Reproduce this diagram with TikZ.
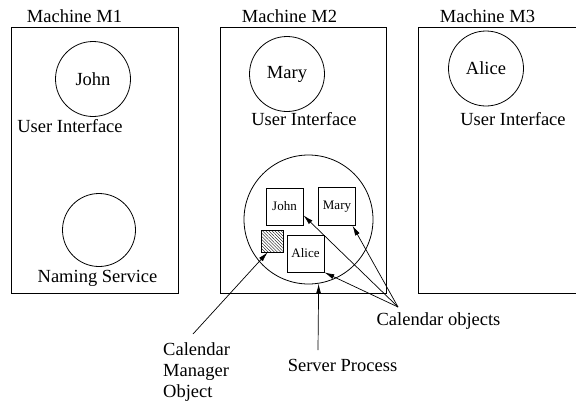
\documentclass[tikz,border=0pt]{standalone}
\usepackage{fontspec}
\setmainfont{Liberation Serif}
\usetikzlibrary{arrows.meta, patterns.meta}

\tikzset{
  machine/.style={draw, line width=0.8pt, inner sep=0pt},
  ui/.style={draw, circle, line width=0.8pt, inner sep=0pt, minimum size=75pt},
  obj/.style={draw, line width=0.8pt, inner sep=0pt, minimum size=37pt, font=\fontsize{13}{15}\selectfont},
  lbl/.style={inner sep=0pt, anchor=base},
  ptr/.style={line width=0.7pt, -{Latex[length=10pt,width=5pt]}}
}

\begin{document}
\begin{tikzpicture}[x=1pt,y=1pt,yscale=-1,font=\fontsize{18.5}{21}\selectfont]
\useasboundingbox (0,0) rectangle (576,407);

% Machines
\node [machine, minimum width=167pt, minimum height=266pt] (m1) at (94.5,160) {};
\node [machine, minimum width=166pt, minimum height=266pt] (m2) at (303,160) {};
\coordinate (m3a) at (576,27);
\coordinate (m3b) at (418,27);
\coordinate (m3c) at (418,293);
\coordinate (m3d) at (576,293);
\draw [line width=0.8pt] (m3a) -- (m3b) -- (m3c) -- (m3d);

% Text Node
\node [lbl] (t1) at (74.5,22) {Machine M1};
\node [lbl] (t2) at (289.5,22) {Machine M2};
\node [lbl] (t3) at (487.5,22) {Machine M3};

% user interfaces
\node [ui] (john) at (93,79) {John};
\node [ui] (mary) at (287,74) {Mary};
\node [ui] (alice) at (486,68.5) {Alice};
\node [lbl] (ui1) at (70,132) {User Interface};
\node [lbl] (ui2) at (304,125) {User Interface};
\node [lbl] (ui3) at (513,125) {User Interface};

% naming service
\node [ui, minimum size=73pt] (ns) at (99,230) {};
\node [lbl] (nslbl) at (97.5,282) {Naming Service};

% server process and its objects
\node [ui, minimum size=129pt] (server) at (308.5,219.5) {};
\node [obj] (jbox) at (284.5,206.5) {John};
\node [obj, minimum size=37.5pt] (mbox) at (337,206.5) {Mary};
\node [obj] (abox) at (305.5,253.5) {Alice};
\node [draw, line width=0.8pt, inner sep=0pt, minimum size=22pt,
  pattern={Lines[angle=-45,distance=2.2pt,line width=0.35pt]}] (hbox) at (272,241) {};

% Text Node
\node [lbl] (colbl) at (438.5,325) {Calendar objects};
\coordinate (co) at (398,307);
\draw [ptr] (co) -- (jbox.-25);
\draw [ptr] (co) -- (mbox.-51);
\draw [ptr] (co) -- (abox.south east);

% Text Node
\node [lbl] (splbl) at (342.5,371) {Server Process};
\coordinate (sp) at (318,350);
\draw [ptr] (sp) -- (server.-81.5);

% Text Node
\node [inner sep=0pt, anchor=north west, align=left] (cmlbl) at (163,342) {Calendar\\Manager\\Object};
\coordinate (cm) at (193,334);
\draw [ptr] (cm) -- (hbox.-111);

\end{tikzpicture}
\end{document}
